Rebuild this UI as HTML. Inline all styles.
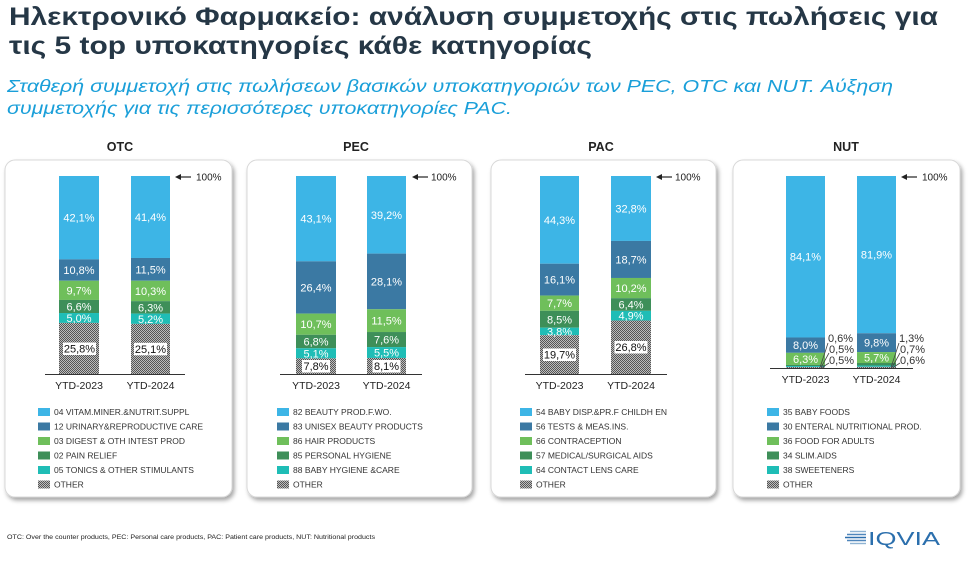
<!DOCTYPE html>
<html><head><meta charset="utf-8"><style>
html,body{margin:0;padding:0;background:#fff;}
svg{display:block;font-family:"Liberation Sans",Arial,sans-serif;}
.seg{fill:#fff;font-size:11px;text-anchor:middle;}
.oth{fill:#111;font-size:11px;text-anchor:middle;}
.ytd{fill:#222;font-size:10.5px;text-anchor:middle;}
.lg{fill:#333;font-size:8.5px;}
.cat{fill:#222;font-size:12.5px;font-weight:bold;text-anchor:middle;}
.hp{fill:#222;font-size:10px;}
.out{fill:#333;font-size:11px;}
</style></head><body>
<svg width="968" height="563" viewBox="0 0 968 563" xmlns="http://www.w3.org/2000/svg">
<defs>
<pattern id="chk" width="2" height="2" patternUnits="userSpaceOnUse">
<rect width="2" height="2" fill="#bcbcbc"/><rect width="1" height="1" fill="#555"/><rect x="1" y="1" width="1" height="1" fill="#555"/>
</pattern>
<filter id="sh" x="-5%" y="-5%" width="112%" height="112%">
<feDropShadow dx="2" dy="3" stdDeviation="2" flood-color="#000" flood-opacity="0.35"/>
</filter>
</defs>
<rect width="968" height="563" fill="#fff"/>

<!-- Title -->
<text x="9" y="25" font-size="25" font-weight="bold" fill="#253746" textLength="929" lengthAdjust="spacingAndGlyphs">Ηλεκτρονικό Φαρμακείο: ανάλυση συμμετοχής στις πωλήσεις για</text>
<text x="9" y="54" font-size="25" font-weight="bold" fill="#253746" textLength="583" lengthAdjust="spacingAndGlyphs">τις 5 top υποκατηγορίες κάθε κατηγορίας</text>
<text x="7" y="92" font-size="17.5" font-style="italic" fill="#1a9fd9" textLength="886" lengthAdjust="spacingAndGlyphs">Σταθερή συμμετοχή στις πωλήσεων βασικών υποκατηγοριών των PEC, OTC και NUT. Αύξηση</text>
<text x="7" y="114" font-size="17.5" font-style="italic" fill="#1a9fd9" textLength="505" lengthAdjust="spacingAndGlyphs">συμμετοχής για τις περισσότερες υποκατηγορίες PAC.</text>

<!-- Category titles -->
<text class="cat" x="120" y="151">OTC</text>
<text class="cat" x="356" y="151">PEC</text>
<text class="cat" x="601" y="151">PAC</text>
<text class="cat" x="846" y="151">NUT</text>

<!-- Cards -->
<g filter="url(#sh)" fill="#fff" stroke="#d8d8d8" stroke-width="1">
<rect x="5" y="160" width="227" height="337" rx="10"/>
<rect x="247" y="160" width="225" height="337" rx="10"/>
<rect x="491" y="160" width="225" height="337" rx="10"/>
<rect x="733" y="160" width="227" height="337" rx="10"/>
</g>

<!-- OTC -->
<g>
<rect x="59" y="176" width="40" height="83.36" fill="#3db5e6"/>
<rect x="59" y="259.36" width="40" height="21.38" fill="#3b79a3"/>
<rect x="59" y="280.74" width="40" height="19.21" fill="#6fbf5b"/>
<rect x="59" y="299.95" width="40" height="13.07" fill="#3e8f59"/>
<rect x="59" y="313.02" width="40" height="9.9" fill="#1fbdb6"/>
<rect x="59" y="322.92" width="40" height="51.08" fill="url(#chk)"/>
<text class="seg" x="79" y="221.7">42,1%</text>
<text class="seg" x="79" y="274">10,8%</text>
<text class="seg" x="79" y="294.3">9,7%</text>
<text class="seg" x="79" y="310.5">6,6%</text>
<text class="seg" x="79" y="322">5,0%</text>
<rect x="63" y="342.5" width="33" height="12.5" fill="#fff"/>
<text class="oth" x="79.5" y="352.5">25,8%</text>

<rect x="131" y="176" width="39" height="81.97" fill="#3db5e6"/>
<rect x="131" y="257.97" width="39" height="22.77" fill="#3b79a3"/>
<rect x="131" y="280.74" width="39" height="20.39" fill="#6fbf5b"/>
<rect x="131" y="301.13" width="39" height="12.47" fill="#3e8f59"/>
<rect x="131" y="313.6" width="39" height="10.3" fill="#1fbdb6"/>
<rect x="131" y="323.9" width="39" height="50.1" fill="url(#chk)"/>
<text class="seg" x="150.5" y="221">41,4%</text>
<text class="seg" x="150.5" y="273.4">11,5%</text>
<text class="seg" x="150.5" y="294.9">10,3%</text>
<text class="seg" x="150.5" y="311.4">6,3%</text>
<text class="seg" x="150.5" y="322.8">5,2%</text>
<rect x="134" y="342.8" width="33" height="12.5" fill="#fff"/>
<text class="oth" x="150.5" y="352.8">25,1%</text>

<line x1="45" y1="374.5" x2="185" y2="374.5" stroke="#333" stroke-width="1"/>
<text class="ytd" x="79" y="389">YTD-2023</text>
<text class="ytd" x="150.5" y="389">YTD-2024</text>
<line x1="180" y1="177" x2="191" y2="177" stroke="#222" stroke-width="1.2"/>
<polygon points="175,177 181,174 181,180" fill="#222"/>
<text class="hp" x="196" y="180.5">100%</text>
</g>

<!-- PEC -->
<g>
<rect x="296" y="176" width="40" height="85.34" fill="#3db5e6"/>
<rect x="296" y="261.34" width="40" height="52.27" fill="#3b79a3"/>
<rect x="296" y="313.61" width="40" height="21.19" fill="#6fbf5b"/>
<rect x="296" y="334.8" width="40" height="13.46" fill="#3e8f59"/>
<rect x="296" y="348.26" width="40" height="10.1" fill="#1fbdb6"/>
<rect x="296" y="358.36" width="40" height="15.64" fill="url(#chk)"/>
<text class="seg" x="316" y="222.7">43,1%</text>
<text class="seg" x="316" y="291.5">26,4%</text>
<text class="seg" x="316" y="328.2">10,7%</text>
<text class="seg" x="316" y="345.5">6,8%</text>
<text class="seg" x="316" y="357.3">5,1%</text>
<rect x="302" y="360" width="28" height="12.5" fill="#fff"/>
<text class="oth" x="316" y="370">7,8%</text>

<rect x="367" y="176" width="39" height="77.62" fill="#3db5e6"/>
<rect x="367" y="253.62" width="39" height="55.64" fill="#3b79a3"/>
<rect x="367" y="309.26" width="39" height="22.77" fill="#6fbf5b"/>
<rect x="367" y="332.03" width="39" height="15.05" fill="#3e8f59"/>
<rect x="367" y="347.08" width="39" height="10.89" fill="#1fbdb6"/>
<rect x="367" y="357.97" width="39" height="16.03" fill="url(#chk)"/>
<text class="seg" x="386.5" y="218.8">39,2%</text>
<text class="seg" x="386.5" y="285.4">28,1%</text>
<text class="seg" x="386.5" y="324.6">11,5%</text>
<text class="seg" x="386.5" y="343.6">7,6%</text>
<text class="seg" x="386.5" y="356.5">5,5%</text>
<rect x="372.5" y="360" width="28" height="12.5" fill="#fff"/>
<text class="oth" x="386.5" y="370">8,1%</text>

<line x1="280" y1="374.5" x2="422" y2="374.5" stroke="#333" stroke-width="1"/>
<text class="ytd" x="316" y="389">YTD-2023</text>
<text class="ytd" x="386.5" y="389">YTD-2024</text>
<line x1="417" y1="177" x2="428" y2="177" stroke="#222" stroke-width="1.2"/>
<polygon points="412,177 418,174 418,180" fill="#222"/>
<text class="hp" x="431" y="180.5">100%</text>
</g>

<!-- PAC -->
<g>
<rect x="540" y="176" width="39" height="87.71" fill="#3db5e6"/>
<rect x="540" y="263.71" width="39" height="31.88" fill="#3b79a3"/>
<rect x="540" y="295.59" width="39" height="15.25" fill="#6fbf5b"/>
<rect x="540" y="310.84" width="39" height="16.83" fill="#3e8f59"/>
<rect x="540" y="327.67" width="39" height="7.52" fill="#1fbdb6"/>
<rect x="540" y="335.19" width="39" height="38.81" fill="url(#chk)"/>
<text class="seg" x="559.5" y="223.9">44,3%</text>
<text class="seg" x="559.5" y="283.7">16,1%</text>
<text class="seg" x="559.5" y="307.2">7,7%</text>
<text class="seg" x="559.5" y="323.3">8,5%</text>
<text class="seg" x="559.5" y="335.4">3,8%</text>
<rect x="543" y="348.5" width="33" height="12.5" fill="#fff"/>
<text class="oth" x="559.5" y="358.5">19,7%</text>

<rect x="611" y="176" width="40" height="64.94" fill="#3db5e6"/>
<rect x="611" y="240.94" width="40" height="37.03" fill="#3b79a3"/>
<rect x="611" y="277.97" width="40" height="20.2" fill="#6fbf5b"/>
<rect x="611" y="298.17" width="40" height="12.67" fill="#3e8f59"/>
<rect x="611" y="310.84" width="40" height="9.7" fill="#1fbdb6"/>
<rect x="611" y="320.54" width="40" height="53.46" fill="url(#chk)"/>
<text class="seg" x="631" y="212.5">32,8%</text>
<text class="seg" x="631" y="263.5">18,7%</text>
<text class="seg" x="631" y="292.1">10,2%</text>
<text class="seg" x="631" y="308.5">6,4%</text>
<text class="seg" x="631" y="319.7">4,9%</text>
<rect x="614.5" y="341" width="33" height="12.5" fill="#fff"/>
<text class="oth" x="631" y="351">26,8%</text>

<line x1="525" y1="374.5" x2="667" y2="374.5" stroke="#333" stroke-width="1"/>
<text class="ytd" x="559.5" y="389">YTD-2023</text>
<text class="ytd" x="631" y="389">YTD-2024</text>
<line x1="661" y1="177" x2="672" y2="177" stroke="#222" stroke-width="1.2"/>
<polygon points="656,177 662,174 662,180" fill="#222"/>
<text class="hp" x="675" y="180.5">100%</text>
</g>

<!-- NUT -->
<g>
<rect x="786" y="176" width="39" height="161.47" fill="#3db5e6"/>
<rect x="786" y="337.47" width="39" height="15.36" fill="#3b79a3"/>
<rect x="786" y="352.83" width="39" height="12.1" fill="#6fbf5b"/>
<rect x="786" y="364.93" width="39" height="1.15" fill="#3e8f59"/>
<rect x="786" y="366.08" width="39" height="0.96" fill="#1fbdb6"/>
<rect x="786" y="367.04" width="39" height="0.96" fill="url(#chk)"/>
<text class="seg" x="805.5" y="260.7">84,1%</text>
<text class="seg" x="805.5" y="349.2">8,0%</text>
<text class="seg" x="805.5" y="362.9">6,3%</text>

<rect x="857" y="176" width="39" height="157.25" fill="#3db5e6"/>
<rect x="857" y="333.25" width="39" height="18.82" fill="#3b79a3"/>
<rect x="857" y="352.07" width="39" height="10.94" fill="#6fbf5b"/>
<rect x="857" y="363.01" width="39" height="2.5" fill="#3e8f59"/>
<rect x="857" y="365.51" width="39" height="1.34" fill="#1fbdb6"/>
<rect x="857" y="366.85" width="39" height="1.15" fill="url(#chk)"/>
<text class="seg" x="876.5" y="258.6">81,9%</text>
<text class="seg" x="876.5" y="346.7">9,8%</text>
<text class="seg" x="876.5" y="361.5">5,7%</text>

<g stroke="#444" stroke-width="0.8">
<line x1="820" y1="367.5" x2="828" y2="343"/>
<line x1="821" y1="367.5" x2="829" y2="353"/>
<line x1="822" y1="367.5" x2="829" y2="363"/>
<line x1="891" y1="367.5" x2="899" y2="343"/>
<line x1="892" y1="367.5" x2="900" y2="353"/>
<line x1="893" y1="367.5" x2="900" y2="363"/>
</g>
<text class="out" x="828" y="342">0,6%</text>
<text class="out" x="829" y="353">0,5%</text>
<text class="out" x="829" y="364">0,5%</text>
<text class="out" x="899" y="342">1,3%</text>
<text class="out" x="900" y="353">0,7%</text>
<text class="out" x="900" y="364">0,6%</text>

<line x1="770" y1="368.5" x2="913" y2="368.5" stroke="#333" stroke-width="1"/>
<text class="ytd" x="805.5" y="383">YTD-2023</text>
<text class="ytd" x="876.5" y="383">YTD-2024</text>
<line x1="906" y1="177" x2="917" y2="177" stroke="#222" stroke-width="1.2"/>
<polygon points="901,177 907,174 907,180" fill="#222"/>
<text class="hp" x="922" y="180.5">100%</text>
</g>

<!-- Legends -->
<g>
<rect x="38" y="408" width="12" height="8" fill="#3db5e6"/><text class="lg" x="54" y="415">04 VITAM.MINER.&amp;NUTRIT.SUPPL</text>
<rect x="38" y="422.5" width="12" height="8" fill="#3b79a3"/><text class="lg" x="54" y="429.5">12 URINARY&amp;REPRODUCTIVE CARE</text>
<rect x="38" y="437" width="12" height="8" fill="#6fbf5b"/><text class="lg" x="54" y="444">03 DIGEST &amp; OTH INTEST PROD</text>
<rect x="38" y="451.5" width="12" height="8" fill="#3e8f59"/><text class="lg" x="54" y="458.5">02 PAIN RELIEF</text>
<rect x="38" y="466" width="12" height="8" fill="#1fbdb6"/><text class="lg" x="54" y="473">05 TONICS &amp; OTHER STIMULANTS</text>
<rect x="38" y="480.5" width="12" height="8" fill="url(#chk)"/><text class="lg" x="54" y="487.5">OTHER</text>

<rect x="277" y="408" width="12" height="8" fill="#3db5e6"/><text class="lg" x="293" y="415">82 BEAUTY PROD.F.WO.</text>
<rect x="277" y="422.5" width="12" height="8" fill="#3b79a3"/><text class="lg" x="293" y="429.5">83 UNISEX BEAUTY PRODUCTS</text>
<rect x="277" y="437" width="12" height="8" fill="#6fbf5b"/><text class="lg" x="293" y="444">86 HAIR PRODUCTS</text>
<rect x="277" y="451.5" width="12" height="8" fill="#3e8f59"/><text class="lg" x="293" y="458.5">85 PERSONAL HYGIENE</text>
<rect x="277" y="466" width="12" height="8" fill="#1fbdb6"/><text class="lg" x="293" y="473">88 BABY HYGIENE &amp;CARE</text>
<rect x="277" y="480.5" width="12" height="8" fill="url(#chk)"/><text class="lg" x="293" y="487.5">OTHER</text>

<rect x="520" y="408" width="12" height="8" fill="#3db5e6"/><text class="lg" x="536" y="415">54 BABY DISP.&amp;PR.F CHILDH EN</text>
<rect x="520" y="422.5" width="12" height="8" fill="#3b79a3"/><text class="lg" x="536" y="429.5">56 TESTS &amp; MEAS.INS.</text>
<rect x="520" y="437" width="12" height="8" fill="#6fbf5b"/><text class="lg" x="536" y="444">66 CONTRACEPTION</text>
<rect x="520" y="451.5" width="12" height="8" fill="#3e8f59"/><text class="lg" x="536" y="458.5">57 MEDICAL/SURGICAL AIDS</text>
<rect x="520" y="466" width="12" height="8" fill="#1fbdb6"/><text class="lg" x="536" y="473">64 CONTACT LENS CARE</text>
<rect x="520" y="480.5" width="12" height="8" fill="url(#chk)"/><text class="lg" x="536" y="487.5">OTHER</text>

<rect x="767" y="408" width="12" height="8" fill="#3db5e6"/><text class="lg" x="783" y="415">35 BABY FOODS</text>
<rect x="767" y="422.5" width="12" height="8" fill="#3b79a3"/><text class="lg" x="783" y="429.5">30 ENTERAL NUTRITIONAL PROD.</text>
<rect x="767" y="437" width="12" height="8" fill="#6fbf5b"/><text class="lg" x="783" y="444">36 FOOD FOR ADULTS</text>
<rect x="767" y="451.5" width="12" height="8" fill="#3e8f59"/><text class="lg" x="783" y="458.5">34 SLIM.AIDS</text>
<rect x="767" y="466" width="12" height="8" fill="#1fbdb6"/><text class="lg" x="783" y="473">38 SWEETENERS</text>
<rect x="767" y="480.5" width="12" height="8" fill="url(#chk)"/><text class="lg" x="783" y="487.5">OTHER</text>
</g>

<!-- Footer -->
<text x="7" y="539" font-size="6.5" fill="#222" textLength="368" lengthAdjust="spacingAndGlyphs">OTC: Over the counter products, PEC: Personal care products, PAC: Patient care products, NUT: Nutritional products</text>

<!-- IQVIA logo -->
<g stroke-width="1.4">
<line x1="850" y1="531.5" x2="866" y2="531.5" stroke="#8fb3d3"/>
<line x1="847" y1="534.5" x2="866" y2="534.5" stroke="#4f86bb"/>
<line x1="845" y1="537.5" x2="866" y2="537.5" stroke="#2c6fae"/>
<line x1="847" y1="540.5" x2="866" y2="540.5" stroke="#4f86bb"/>
<line x1="850" y1="543.5" x2="866" y2="543.5" stroke="#8fb3d3"/>
</g>
<text x="868" y="545" font-size="18" fill="#2b6fad" textLength="72" lengthAdjust="spacingAndGlyphs">IQVIA</text>
</svg>
</body></html>
